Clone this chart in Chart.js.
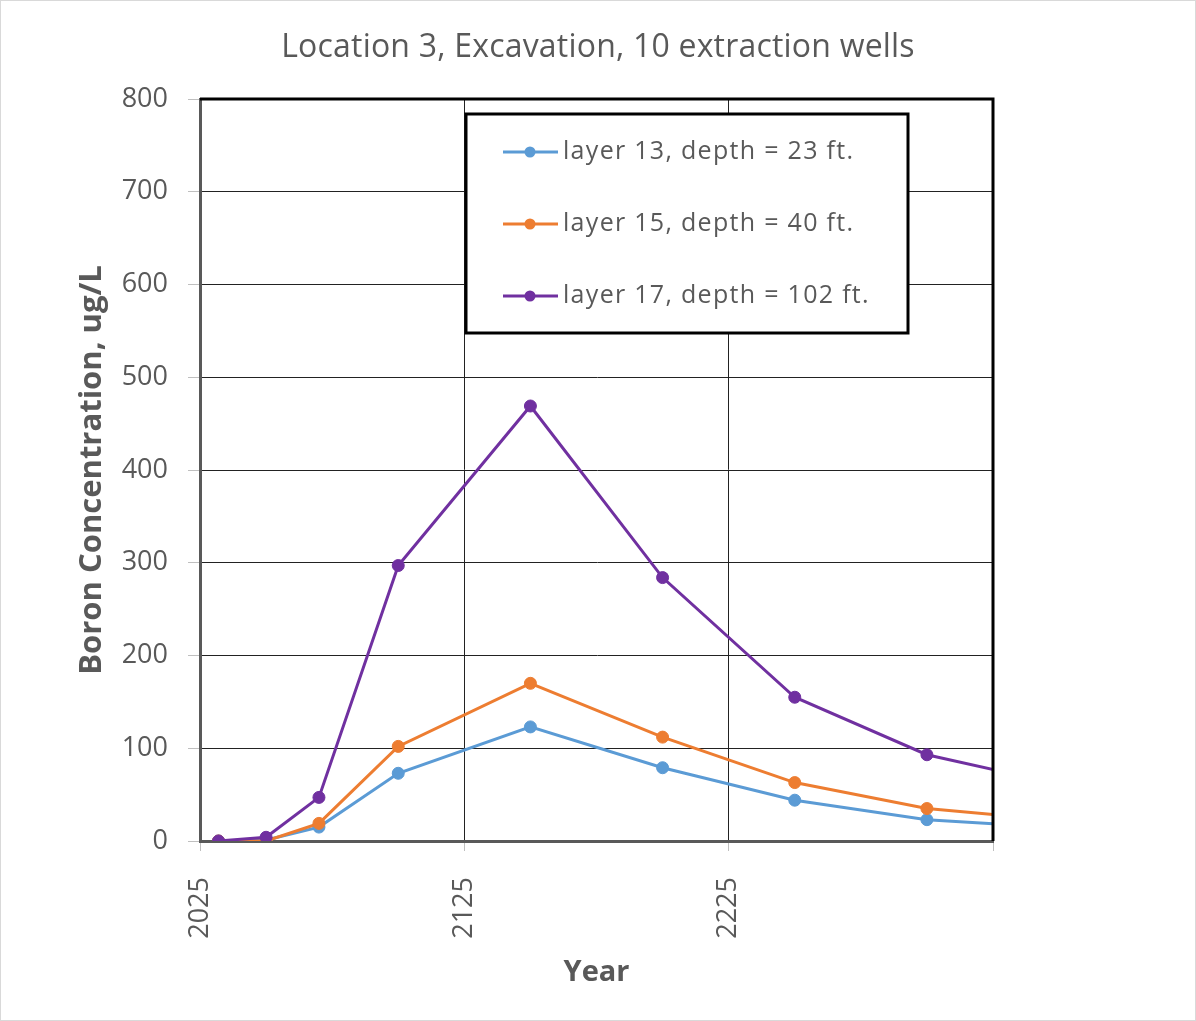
<!DOCTYPE html>
<html>
<head>
<meta charset="utf-8">
<script src="https://cdn.jsdelivr.net/npm/chart.js@4.4.1/dist/chart.umd.min.js"></script>
<style>
  html, body { margin: 0; padding: 0; background: #fff; }
  #wrap { width: 1196px; height: 1021px; }
</style>
</head>
<body>
<div id="wrap"><canvas id="c" width="1196" height="1021"></canvas></div>
<script>
const chartTitle = "Location 3, Excavation, 10 extraction wells";
const xTitle = "Year";
const yTitle = "Boron Concentration, ug/L";
const years = [2032, 2050, 2070, 2100, 2150, 2200, 2250, 2300, 2350];
const seriesNames = ["layer 13, depth = 23 ft.", "layer 15, depth = 40 ft.", "layer 17, depth = 102 ft."];
const layer13 = [0, 1, 15, 73, 123, 79, 44, 23, 14];
const layer15 = [0, 0, 19, 102, 170, 112, 63, 35, 22];
const layer17 = [0, 4, 47, 297, 469, 284, 155, 93, 61];
const seriesColors = ["#5B9BD5", "#ED7D31", "#7030A0"];
const xTickYears = [2025, 2125, 2225];
const yTicks = [0, 100, 200, 300, 400, 500, 600, 700, 800];

const FONT = "'Open Sans', Lato, 'DejaVu Sans', sans-serif";
const TXT = "#595959";

function toPts(vals) { return vals.map((v, i) => ({ x: years[i], y: v })); }
const allSeries = [layer13, layer15, layer17];

const datasets = allSeries.map((vals, i) => ({
  label: seriesNames[i],
  data: toPts(vals),
  borderColor: seriesColors[i],
  backgroundColor: seriesColors[i],
  pointBackgroundColor: seriesColors[i],
  pointBorderColor: seriesColors[i],
  pointRadius: 6,
  pointBorderWidth: 1,
  borderWidth: 3,
  tension: 0,
  order: 2 - i
}));

const framePlugin = {
  id: 'frame',
  beforeDraw(chart) {
    const ctx = chart.ctx;
    ctx.save();
    ctx.fillStyle = '#fff';
    ctx.fillRect(0, 0, chart.width, chart.height);
    ctx.strokeStyle = '#d9d9d9';
    ctx.lineWidth = 1;
    ctx.strokeRect(0.5, 0.5, chart.width - 1, chart.height - 1);
    // chart title centred on the whole picture
    ctx.fillStyle = TXT;
    ctx.font = "32px " + FONT;
    ctx.letterSpacing = '0.2px';
    ctx.textAlign = 'center';
    ctx.textBaseline = 'middle';
    ctx.fillText(chartTitle, chart.width / 2, 48);
    ctx.letterSpacing = '0px';
    ctx.restore();
  },
  afterDraw(chart) {
    const ctx = chart.ctx;
    const a = chart.chartArea;
    ctx.save();
    ctx.strokeStyle = '#000';
    ctx.lineWidth = 3;
    ctx.beginPath();
    ctx.moveTo(a.left, a.top);
    ctx.lineTo(a.right, a.top);
    ctx.lineTo(a.right, a.bottom);
    ctx.stroke();
    // legend box
    const bx = a.left + 266, by = a.top + 15, bw = 442, bh = 219;
    ctx.fillStyle = '#fff';
    ctx.fillRect(bx, by, bw, bh);
    ctx.strokeStyle = '#000';
    ctx.lineWidth = 3;
    ctx.strokeRect(bx, by, bw, bh);
    chart.data.datasets.forEach((ds, i) => {
      const ry = by + 38 + i * 72;
      ctx.strokeStyle = ds.borderColor;
      ctx.lineWidth = 3;
      ctx.beginPath();
      ctx.moveTo(bx + 37, ry);
      ctx.lineTo(bx + 92, ry);
      ctx.stroke();
      ctx.fillStyle = ds.borderColor;
      ctx.beginPath();
      ctx.arc(bx + 64, ry, 5.5, 0, Math.PI * 2);
      ctx.fill();
      ctx.fillStyle = TXT;
      ctx.font = "25px " + FONT;
      ctx.letterSpacing = '1.3px';
      ctx.textBaseline = 'middle';
      ctx.textAlign = 'left';
      ctx.fillText(ds.label, bx + 97, ry);
      ctx.letterSpacing = '0px';
    });
    ctx.restore();
  }
};

new Chart(document.getElementById('c'), {
  type: 'line',
  data: { datasets },
  options: {
    responsive: false,
    animation: false,
    devicePixelRatio: 1,
    layout: { padding: { left: 0, right: 203, top: 99, bottom: 0 } },
    plugins: {
      legend: { display: false },
      tooltip: { enabled: false },
      title: { display: false }
    },
    scales: {
      x: {
        type: 'linear',
        min: 2025,
        max: 2325,
        afterFit(s) { s.height = 180; },
        afterBuildTicks(s) { s.ticks = s.ticks.filter(t => xTickYears.includes(t.value) || t.value === 2325); },
        ticks: {
          stepSize: 100,
          autoSkip: false,
          maxRotation: 90,
          minRotation: 90,
          padding: 26,
          color: TXT,
          font: { family: FONT, size: 27 },
          callback: v => xTickYears.includes(v) ? String(v) : ''
        },
        grid: { color: '#222', lineWidth: 1, tickLength: 10, tickColor: '#bfbfbf' },
        border: { color: '#595959', width: 3 },
        title: {
          display: true,
          text: xTitle,
          color: TXT,
          font: { family: FONT, size: 29, weight: 'bold' },
          padding: { top: 0, bottom: 31 }
        }
      },
      y: {
        min: 0,
        max: 800,
        afterFit(s) { s.width = 200; },
        afterBuildTicks(s) { s.ticks = yTicks.map(v => ({ value: v })); },
        ticks: {
          stepSize: 100,
          padding: 20,
          color: TXT,
          font: { family: FONT, size: 27 }
        },
        grid: { color: '#222', lineWidth: 1, tickLength: 12, tickColor: '#bfbfbf' },
        border: { color: '#595959', width: 3 },
        title: {
          display: true,
          text: yTitle,
          color: TXT,
          font: { family: FONT, size: 31, weight: 'bold' },
          padding: { top: 74, bottom: 0 }
        }
      }
    }
  },
  plugins: [framePlugin]
});
</script>
</body>
</html>
